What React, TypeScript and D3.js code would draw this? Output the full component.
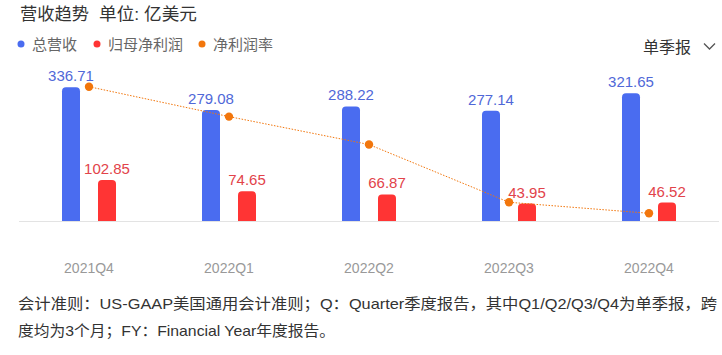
import React from "react";
import * as d3 from "d3";

const categories = ["2021Q4", "2022Q1", "2022Q2", "2022Q3", "2022Q4"];
const revenue = [336.71, 279.08, 288.22, 277.14, 321.65];
const netProfit = [102.85, 74.65, 66.87, 43.95, 46.52];
const netMargin = [30.55, 26.75, 23.2, 15.86, 14.46];
const legendLabels = ["总营收", "归母净利润", "净利润率"];
const titleMain = "营收趋势";
const titleUnit = "单位: 亿美元";
const periodLabel = "单季报";
const footLines = [
  "会计准则：US-GAAP美国通用会计准则；Q：Quarter季度报告，其中Q1/Q2/Q3/Q4为单季报，跨",
  "度均为3个月；FY：Financial Year年度报告。",
];

const W = 722;
const H = 355;
const FONT = "'Liberation Sans', Arial, 'Noto Sans CJK SC', sans-serif";
const BLUE = "#4a6cf0";
const RED = "#ff3434";
const ORANGE = "#f2760c";
const BLUE_TXT = "#5068d8";
const RED_TXT = "#e2434a";

function topRoundedRect(x: number, y: number, w: number, h: number, r: number) {
  const rr = Math.min(r, h, w / 2);
  return `M${x},${y + h}V${y + rr}Q${x},${y} ${x + rr},${y}H${x + w - rr}Q${x + w},${y} ${x + w},${y + rr}V${y + h}Z`;
}

export default function App() {
  const left = 19;
  const right = 719;
  const base = 221;
  const top = 62;
  const x = d3.scaleBand<string>().domain(categories).range([left, right]);
  const y = d3.scaleLinear().domain([0, 400]).range([base, top]);
  const yR = d3.scaleLinear().domain([13.48, 33.69]).range([base, top]);
  const barW = 18;
  const off = 18;
  const cx = (c: string) => (x(c) as number) + x.bandwidth() / 2;

  const line = d3
    .line<number>()
    .x((_, i) => cx(categories[i]))
    .y((d) => yR(d));

  const legendColors = [BLUE, RED, ORANGE];
  const legendX = [21, 97, 202];

  return (
    <svg
      width={W}
      height={H}
      style={{ position: "absolute", left: 0, top: 0, background: "#fff" }}
      fontFamily={FONT}
    >
      <text x={20} y={20} fontSize={17} fill="#333" textLength={69} lengthAdjust="spacingAndGlyphs">
        {titleMain}
      </text>
      <text x={99} y={20} fontSize={17} fill="#333" textLength={98} lengthAdjust="spacingAndGlyphs">
        {titleUnit}
      </text>
      {legendLabels.map((l, i) => (
        <g key={l}>
          <circle cx={legendX[i]} cy={44} r={3.5} fill={legendColors[i]} />
          <text x={legendX[i] + 11} y={49.5} fontSize={15} fill="#666">
            {l}
          </text>
        </g>
      ))}
      <text x={643} y={52.5} fontSize={16} fill="#333">
        {periodLabel}
      </text>
      <polyline points="704,43.5 709.5,49 715,43.5" fill="none" stroke="#555" strokeWidth={1.3} />

      <line x1={left} x2={right} y1={base + 0.5} y2={base + 0.5} stroke="#e3e3e3" strokeWidth={1} />

      {categories.map((c, i) => {
        const bx = cx(c) - off - barW / 2;
        const rx = cx(c) + off - barW / 2;
        const by = y(revenue[i]);
        const ry = y(netProfit[i]);
        return (
          <g key={c}>
            <path d={topRoundedRect(bx, by, barW, base - by, 4)} fill={BLUE} />
            <path d={topRoundedRect(rx, ry, barW, base - ry, 4)} fill={RED} />
            <text x={cx(c) - off} y={by - 6} textAnchor="middle" fontSize={15} fill={BLUE_TXT}>
              {revenue[i].toFixed(2)}
            </text>
            <text x={cx(c) + off} y={ry - 6} textAnchor="middle" fontSize={15} fill={RED_TXT}>
              {netProfit[i].toFixed(2)}
            </text>
            <text x={cx(c)} y={273} textAnchor="middle" fontSize={14} fill="#999">
              {c}
            </text>
          </g>
        );
      })}

      <path d={line(netMargin) || ""} fill="none" stroke={ORANGE} strokeWidth={1} strokeDasharray="1.5,1.5" />
      {netMargin.map((m, i) => (
        <circle key={i} cx={cx(categories[i])} cy={yR(m)} r={4.2} fill={ORANGE} />
      ))}

      <text x={18} y={308.5} fontSize={15} fill="#333" textLength={699} lengthAdjust="spacingAndGlyphs">
        {footLines[0]}
      </text>
      <text x={18} y={335.5} fontSize={15} fill="#333" textLength={317} lengthAdjust="spacingAndGlyphs">
        {footLines[1]}
      </text>
    </svg>
  );
}
